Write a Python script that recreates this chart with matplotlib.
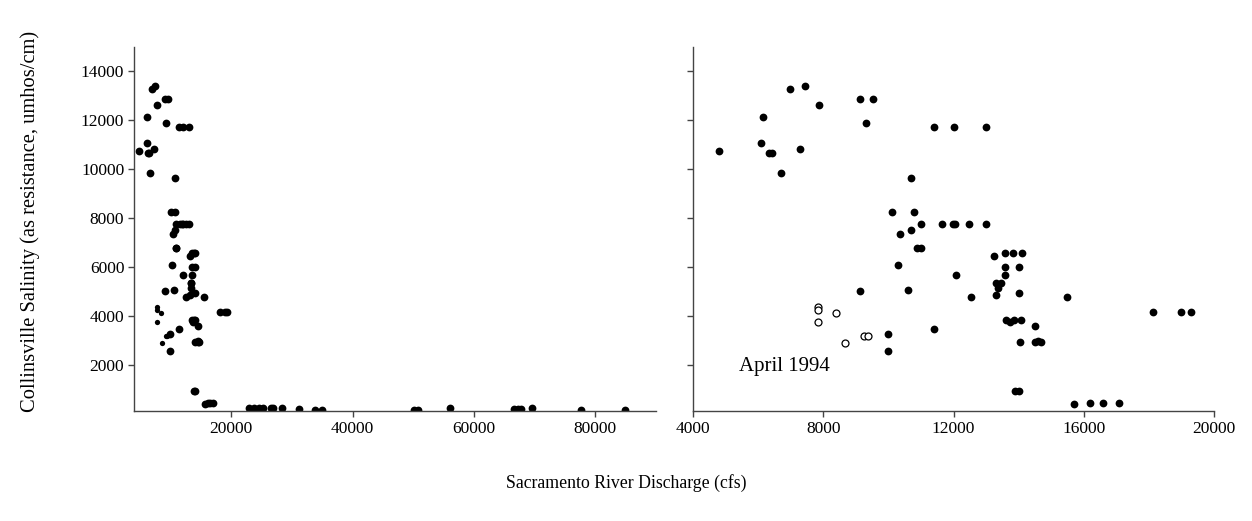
import matplotlib.pyplot as plt
import numpy as np

plt.rcParams['font.family'] = ['Liberation Serif', 'DejaVu Serif']
plt.rcParams['font.size'] = 12

# discharge (cfs) and salinity readings, filled dots
flow = [4800, 6150, 6080, 6340, 6440, 6990, 7450, 6710, 7290, 7870,
        9140, 9520, 9320, 11400, 12000, 12990, 10700, 10100, 10800, 10350,
        10700, 11000, 11640, 11980, 12060, 12490, 12990, 10880, 10990, 10300,
        10600, 9120, 12090, 12550, 13250, 13590, 13840, 14100, 13590, 14000,
        13590, 13310, 13460, 13360, 13290, 14000, 13620, 13720, 13870, 14080,
        14490, 14050, 14490, 14690, 14590, 13900, 14000, 9980, 9980, 11400,
        15490, 15690, 16190, 16590, 17090, 18140, 18980, 19290,
        22950, 23780, 24610, 25270, 26650, 26900, 28370, 31120, 33840, 34940,
        50140, 50850, 55990, 66600, 67260, 67830, 69540, 77710, 84900]
salinity = [10750, 12130, 11070, 10680, 10660, 13300, 13390, 9850, 10850, 12650,
            12860, 12860, 11900, 11720, 11720, 11720, 9640, 8270, 8270, 7370,
            7530, 7760, 7760, 7760, 7760, 7760, 7760, 6770, 6770, 6090,
            5070, 5030, 5680, 4790, 6450, 6580, 6580, 6580, 6020, 6020,
            5680, 5370, 5370, 5140, 4870, 4960, 3850, 3780, 3850, 3850,
            3610, 2930, 2930, 2930, 3010, 960, 960, 3280, 2600, 3470,
            4790, 420, 460, 460, 460, 4170, 4170, 4170,
            270, 270, 270, 270, 245, 245, 245, 216, 163, 163,
            175, 175, 245, 216, 216, 216, 245, 175, 175]

# April 1994 readings (open circles)
flow_apr94 = [7830, 7830, 7830, 8400, 8680, 9240, 9370]
salinity_apr94 = [4390, 4250, 3780, 4120, 2920, 3195, 3195]

fig = plt.figure(figsize=(12.52, 5.21), dpi=100)
ax1 = fig.add_axes([134/1252, 1-411/521, (656-134)/1252, (411-47)/521])
ax2 = fig.add_axes([693/1252, 1-411/521, (1214-693)/1252, (411-47)/521])

ax1.plot(flow, salinity, 'o', color='black', ms=5.6, mew=0)
ax1.plot(flow_apr94, salinity_apr94, 'o', color='black', ms=3.8, mew=0)
ax1.set_xlim(4000, 90000)
ax1.set_xticks([20000, 40000, 60000, 80000])

ax2.plot(flow, salinity, 'o', color='black', ms=5.6, mew=0)
ax2.plot(flow_apr94, salinity_apr94, 'o', mfc='white', mec='black', ms=5, mew=0.9)
ax2.set_xlim(4000, 20000)
ax2.set_xticks([4000, 8000, 12000, 16000, 20000])
ax2.text(5400, 1930, 'April 1994', va='center', ha='left', fontsize=15)

for ax in (ax1, ax2):
    ax.set_ylim(130, 15000)
    ax.set_yticks(range(2000, 15000, 2000))
    for s in ('top', 'right'):
        ax.spines[s].set_visible(False)
    for s in ('left', 'bottom'):
        ax.spines[s].set_color('#444444')
        ax.spines[s].set_linewidth(1.0)
    ax.tick_params(direction='out', length=4, width=1, color='#444444', pad=3, labelsize=12.5)

ax2.set_yticklabels([])

fig.text(30/1252, 1-221/521, 'Collinsville Salinity (as resistance, umhos/cm)',
         rotation=90, ha='center', va='center', fontsize=14.8)
fig.text(626/1252, 1-483/521, 'Sacramento River Discharge (cfs)',
         ha='center', va='center', fontsize=12.8)

fig.savefig('out.png', dpi=100)
